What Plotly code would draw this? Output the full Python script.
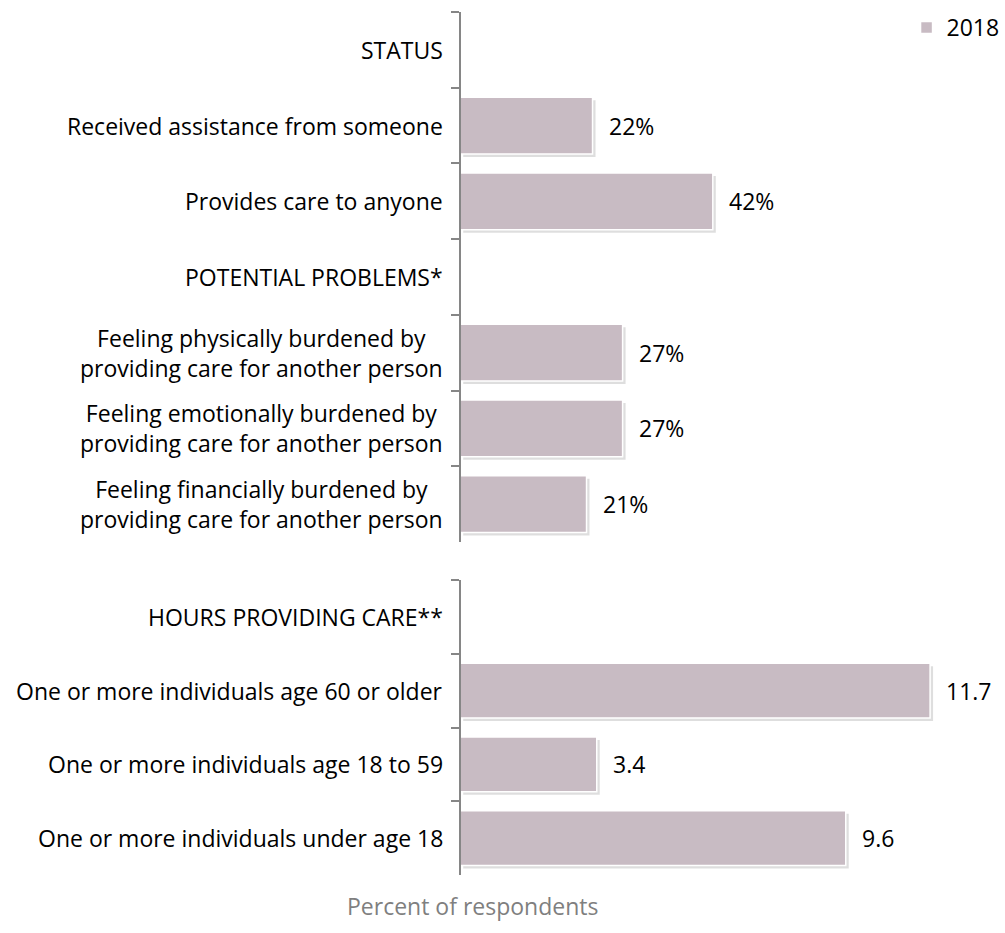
import plotly.graph_objects as go

# ---- data ----
top_categories = [
    "STATUS",
    "Received assistance from someone",
    "Provides care to anyone",
    "POTENTIAL PROBLEMS*",
    "Feeling physically burdened by<br>providing care for another person",
    "Feeling emotionally burdened by<br>providing care for another person",
    "Feeling financially burdened by<br>providing care for another person",
]
top_values = [None, 22, 42, None, 27, 27, 21]
top_labels = ["", "22%", "42%", "", "27%", "27%", "21%"]

bottom_categories = [
    "HOURS PROVIDING CARE**",
    "One or more individuals age 60 or older",
    "One or more individuals age 18 to 59",
    "One or more individuals under age 18",
]
bottom_values = [None, 11.7, 3.4, 9.6]
bottom_labels = ["", "11.7", "3.4", "9.6"]

series_name = "2018"
x_title = "Percent of respondents"

# ---- style ----
BAR = "#C8BBC3"
AXIS = "#868686"
FONT = "Open Sans"
FS = 23
W, H = 1005, 933

x0 = 463 / W
x1 = 995 / W
top_dom = [1 - 542 / H, 1 - 12 / H]
bot_dom = [1 - 875 / H, 1 - 580 / H]
top_px = 6.05     # px per unit, top panel
bot_px = 40.4     # px per unit, bottom panel
top_range = [0, (995 - 463) / top_px]
bot_range = [0, (995 - 463) / bot_px]
SH = 3  # shadow offset px
SHADOW = "rgba(0,0,0,0.13)"

fig = go.Figure()

# shadows (drawn on base axes, shifted)
fig.add_trace(go.Bar(
    x=top_values, y=top_categories, orientation="h",
    marker=dict(color=SHADOW, line=dict(width=0)),
    width=0.75, offset=-0.375 + SH / 75.7, xaxis="x", yaxis="y",
    showlegend=False, hoverinfo="skip",
))
fig.add_trace(go.Bar(
    x=bottom_values, y=bottom_categories, orientation="h",
    marker=dict(color=SHADOW, line=dict(width=0)),
    width=0.74, offset=-0.37 + SH / 74, xaxis="x2", yaxis="y2",
    showlegend=False, hoverinfo="skip",
))

# main bars (on overlaying axes, drawn above)
fig.add_trace(go.Bar(
    x=top_values, y=top_categories, orientation="h",
    marker=dict(color=BAR, line=dict(color="white", width=1.5)),
    width=0.75, name=series_name, xaxis="x3", yaxis="y", showlegend=True,
    hoverinfo="skip",
))
fig.add_trace(go.Bar(
    x=bottom_values, y=bottom_categories, orientation="h",
    marker=dict(color=BAR, line=dict(color="white", width=1.5)),
    width=0.74, name=series_name, xaxis="x4", yaxis="y2", showlegend=False,
    hoverinfo="skip",
))

annotations = []
def add_labels(cats, vals, labs, xref, yref):
    for cat, v, lab in zip(cats, vals, labs):
        annotations.append(dict(x=x0 - 15 / W, xref="paper", y=cat, yref=yref,
                                text=cat, xanchor="right", align="center",
                                showarrow=False, font=dict(size=FS, color="black", family=FONT)))
        if v is not None:
            annotations.append(dict(x=v, xref=xref, y=cat, yref=yref, text=lab,
                                    xanchor="left", xshift=14, showarrow=False,
                                    font=dict(size=FS, color="black", family=FONT)))

add_labels(top_categories, top_values, top_labels, "x3", "y")
add_labels(bottom_categories, bottom_values, bottom_labels, "x4", "y2")

annotations.append(dict(x=475 / W, xref="paper", y=1 - 906 / H, yref="paper",
                        text=x_title, showarrow=False, xanchor="center", yanchor="middle",
                        font=dict(size=23, color="#7F7F7F", family=FONT)))

yaxis_common = dict(
    type="category", autorange="reversed", showline=True, linecolor=AXIS,
    linewidth=1.5, ticks="outside", ticklen=8, tickcolor=AXIS, tickwidth=1.5,
    tickson="boundaries", showticklabels=False, showgrid=False, zeroline=False,
    anchor="free", position=x0,
)
xaxis_common = dict(visible=False, showgrid=False, zeroline=False, domain=[x0, x1])

fig.update_layout(
    width=W, height=H,
    margin=dict(l=0, r=0, t=0, b=0),
    paper_bgcolor="white", plot_bgcolor="white",
    font=dict(family=FONT, size=FS, color="black"),
    xaxis=dict(**xaxis_common, range=[r - SH / top_px for r in top_range], anchor="y"),
    xaxis2=dict(**xaxis_common, range=[r - SH / bot_px for r in bot_range], anchor="y2"),
    xaxis3=dict(**xaxis_common, range=top_range, anchor="y", overlaying="x"),
    xaxis4=dict(**xaxis_common, range=bot_range, anchor="y2", overlaying="x2"),
    yaxis=dict(**yaxis_common, domain=top_dom),
    yaxis2=dict(**yaxis_common, domain=bot_dom),
    barmode="overlay",
    annotations=annotations,
    legend=dict(x=912 / W, y=1 - 6 / H, xanchor="left", yanchor="top",
                font=dict(size=FS, family=FONT), bgcolor="rgba(0,0,0,0)",
                itemwidth=30),
    showlegend=True,
)

fig.write_html("out.html", config={"displayModeBar": False},
               post_script="document.body.style.margin='0';")
